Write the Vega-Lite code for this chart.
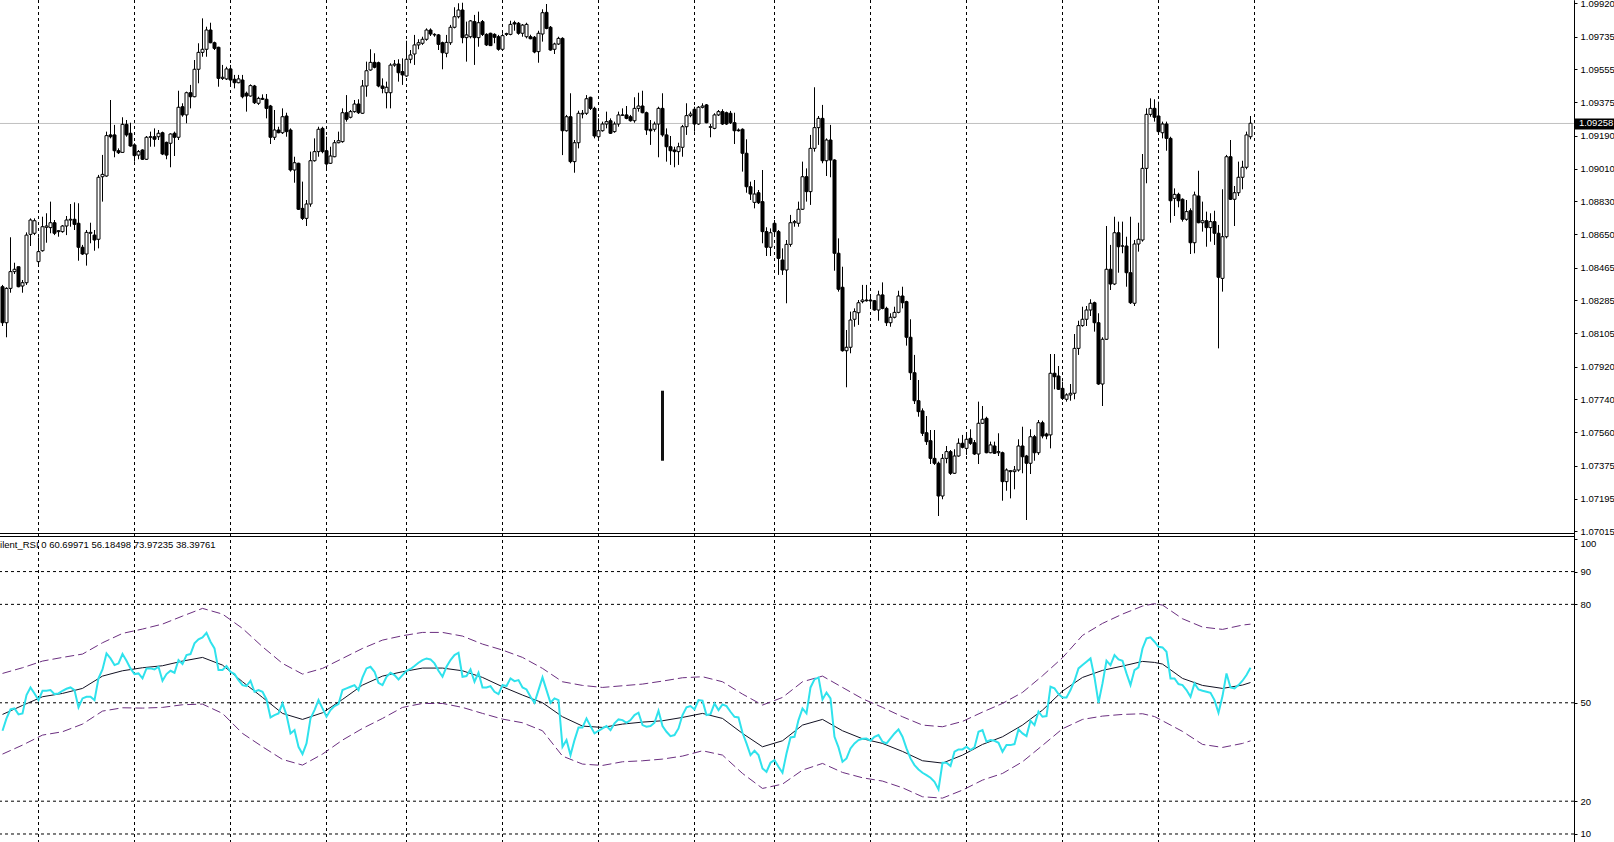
{
"$schema":"https://vega.github.io/schema/vega-lite/v6.json",
"width":1574,"height":842,
"autosize":{"type":"none"},
"padding":{"left":0,"top":0,"right":40,"bottom":0},
"background":"white",
"config":{"view":{"stroke":null},"scale":{"continuousPadding":0},"axis":{"labelFont":"Liberation Sans","labelFontSize":9.5,"labelColor":"#000","domainColor":"#000","tickColor":"#000","grid":false}},
"datasets":{
"grid":[{"i":9},{"i":33},{"i":57},{"i":81},{"i":101},{"i":125},{"i":149},{"i":173},{"i":193},{"i":217},{"i":241},{"i":265},{"i":289},{"i":313}],
"levels":[{"v":90},{"v":80},{"v":50},{"v":20},{"v":10}],
"bands":[
{"i":0,"up":58.95,"mid":46.45,"lo":34.36},{"i":5,"up":60.68,"mid":49.19,"lo":37.10},{"i":10,"up":62.71,"mid":51.84,"lo":40.15},{"i":15,"up":63.83,"mid":52.85,"lo":41.17},{"i":20,"up":64.85,"mid":54.38,"lo":43.50},{"i":25,"up":68.30,"mid":58.14,"lo":47.47},{"i":30,"up":71.15,"mid":59.76,"lo":48.48},{"i":35,"up":72.47,"mid":60.68,"lo":48.38},{"i":40,"up":73.99,"mid":61.29,"lo":48.59},{"i":45,"up":76.43,"mid":62.71,"lo":49.40},{"i":50,"up":78.77,"mid":63.83,"lo":49.60},{"i":55,"up":77.04,"mid":61.49,"lo":46.76},{"i":60,"up":72.67,"mid":56.41,"lo":40.66},{"i":65,"up":67.08,"mid":51.63,"lo":36.59},{"i":70,"up":62.0,"mid":46.76,"lo":32.73},{"i":75,"up":58.75,"mid":44.93,"lo":31.0},{"i":80,"up":60.48,"mid":46.96,"lo":34.36},{"i":85,"up":63.52,"mid":51.02,"lo":38.63},{"i":90,"up":66.57,"mid":55.39,"lo":42.18},{"i":95,"up":69.11,"mid":58.14,"lo":45.23},{"i":100,"up":70.44,"mid":59.46,"lo":48.59},{"i":105,"up":71.45,"mid":60.58,"lo":49.80},{"i":110,"up":71.45,"mid":60.58,"lo":49.80},{"i":115,"up":70.33,"mid":59.76,"lo":48.59},{"i":120,"up":67.89,"mid":57.73,"lo":46.76},{"i":125,"up":66.07,"mid":54.89,"lo":45.03},{"i":130,"up":63.83,"mid":52.35,"lo":43.91},{"i":135,"up":60.48,"mid":50.01,"lo":41.47},{"i":140,"up":56.41,"mid":45.74,"lo":33.75},{"i":145,"up":55.29,"mid":42.89,"lo":31.31},{"i":150,"up":54.68,"mid":42.49,"lo":30.90},{"i":155,"up":55.19,"mid":43.50,"lo":32.02},{"i":160,"up":55.70,"mid":44.11,"lo":32.32},{"i":165,"up":56.61,"mid":44.52,"lo":32.83},{"i":170,"up":57.63,"mid":45.54,"lo":33.75},{"i":175,"up":57.94,"mid":46.76,"lo":35.37},{"i":180,"up":56.41,"mid":45.23,"lo":34.05},{"i":185,"up":52.65,"mid":40.66,"lo":28.46},{"i":190,"up":49.30,"mid":36.59,"lo":23.89},{"i":195,"up":51.63,"mid":38.42,"lo":25.21},{"i":200,"up":56.41,"mid":43.20,"lo":29.48},{"i":205,"up":58.14,"mid":44.93,"lo":31.51},{"i":210,"up":54.68,"mid":41.47,"lo":28.77},{"i":215,"up":51.23,"mid":39.03,"lo":27.14},{"i":220,"up":48.59,"mid":37.61,"lo":26.13},{"i":225,"up":45.74,"mid":35.17,"lo":24.09},{"i":230,"up":43.20,"mid":32.33,"lo":21.35},{"i":235,"up":42.69,"mid":31.61,"lo":20.94},{"i":240,"up":44.32,"mid":34.05,"lo":23.38},{"i":245,"up":47.16,"mid":37.31,"lo":26.43},{"i":250,"up":49.81,"mid":39.64,"lo":28.46},{"i":255,"up":53.16,"mid":43.20,"lo":32.02},{"i":260,"up":58.24,"mid":47.77,"lo":37.0},{"i":265,"up":63.73,"mid":53.57,"lo":42.08},{"i":270,"up":70.54,"mid":57.73,"lo":44.93},{"i":275,"up":74.20,"mid":59.87,"lo":45.94},{"i":280,"up":77.04,"mid":61.19,"lo":46.45},{"i":285,"up":79.48,"mid":62.61,"lo":46.66},{"i":288,"up":80.2,"mid":62.3,"lo":45.8},{"i":290,"up":79.79,"mid":61.80,"lo":44.52},{"i":295,"up":75.62,"mid":57.43,"lo":41.27},{"i":300,"up":73.08,"mid":55.29,"lo":37.31},{"i":305,"up":72.37,"mid":54.38,"lo":36.39},{"i":310,"up":73.69,"mid":55.40,"lo":37.61},{"i":312,"up":73.97,"mid":56.18,"lo":38.40}
],
"candles":[
{"i":0,"o":1.08360,"h":1.08370,"l":1.08144,"c":1.08162,"r":41.47},
{"i":1,"o":1.08162,"h":1.08357,"l":1.08082,"c":1.08351,"r":45.23},
{"i":2,"o":1.08351,"h":1.08632,"l":1.08327,"c":1.08443,"r":47.98},
{"i":3,"o":1.08443,"h":1.08492,"l":1.08430,"c":1.08456,"r":48.28},
{"i":4,"o":1.08470,"h":1.08470,"l":1.08357,"c":1.08360,"r":46.45},
{"i":5,"o":1.08364,"h":1.08397,"l":1.08327,"c":1.08382,"r":46.76},
{"i":6,"o":1.08382,"h":1.08659,"l":1.08370,"c":1.08644,"r":52.35},
{"i":7,"o":1.08648,"h":1.08736,"l":1.08584,"c":1.08727,"r":54.68},
{"i":8,"o":1.08654,"h":1.08736,"l":1.08644,"c":1.08723,"r":52.85},
{"i":9,"o":1.08498,"h":1.08632,"l":1.08479,"c":1.08553,"r":50.82},
{"i":10,"o":1.08558,"h":1.08745,"l":1.08553,"c":1.08690,"r":53.67},
{"i":11,"o":1.08687,"h":1.08764,"l":1.08602,"c":1.08694,"r":53.67},
{"i":12,"o":1.08685,"h":1.08828,"l":1.08654,"c":1.08712,"r":53.87},
{"i":13,"o":1.08712,"h":1.08727,"l":1.08644,"c":1.08654,"r":52.65},
{"i":14,"o":1.08663,"h":1.08672,"l":1.08635,"c":1.08668,"r":52.85},
{"i":15,"o":1.08663,"h":1.08699,"l":1.08657,"c":1.08694,"r":53.67},
{"i":16,"o":1.08694,"h":1.08749,"l":1.08644,"c":1.08727,"r":54.28},
{"i":17,"o":1.08727,"h":1.08815,"l":1.08690,"c":1.08731,"r":54.68},
{"i":18,"o":1.08731,"h":1.08824,"l":1.08672,"c":1.08703,"r":53.87},
{"i":19,"o":1.08709,"h":1.08819,"l":1.08503,"c":1.08577,"r":48.59},
{"i":20,"o":1.08577,"h":1.08590,"l":1.08535,"c":1.08540,"r":51.33},
{"i":21,"o":1.08540,"h":1.08672,"l":1.08476,"c":1.08659,"r":51.84},
{"i":22,"o":1.08654,"h":1.08712,"l":1.08599,"c":1.08659,"r":51.84},
{"i":23,"o":1.08644,"h":1.08672,"l":1.08558,"c":1.08617,"r":50.82},
{"i":24,"o":1.08621,"h":1.08975,"l":1.08571,"c":1.08962,"r":57.43},
{"i":25,"o":1.08965,"h":1.09085,"l":1.08828,"c":1.08978,"r":60.17},
{"i":26,"o":1.08969,"h":1.09213,"l":1.08965,"c":1.09191,"r":65.05},
{"i":27,"o":1.09195,"h":1.09387,"l":1.09176,"c":1.09185,"r":63.52},
{"i":28,"o":1.09195,"h":1.09250,"l":1.09072,"c":1.09108,"r":61.49},
{"i":29,"o":1.09108,"h":1.09121,"l":1.09090,"c":1.09097,"r":62.0},
{"i":30,"o":1.09099,"h":1.09292,"l":1.09097,"c":1.09253,"r":64.85},
{"i":31,"o":1.09253,"h":1.09277,"l":1.09185,"c":1.09195,"r":62.81},
{"i":32,"o":1.09204,"h":1.09262,"l":1.09130,"c":1.09134,"r":60.48},
{"i":33,"o":1.09140,"h":1.09149,"l":1.09048,"c":1.09081,"r":58.75},
{"i":34,"o":1.09084,"h":1.09112,"l":1.09061,"c":1.09103,"r":58.95},
{"i":35,"o":1.09112,"h":1.09116,"l":1.09057,"c":1.09061,"r":57.43},
{"i":36,"o":1.09061,"h":1.09189,"l":1.09057,"c":1.09182,"r":60.48},
{"i":37,"o":1.09182,"h":1.09213,"l":1.09130,"c":1.09185,"r":60.48},
{"i":38,"o":1.09185,"h":1.09231,"l":1.09130,"c":1.09171,"r":60.17},
{"i":39,"o":1.09185,"h":1.09222,"l":1.09167,"c":1.09204,"r":60.98},
{"i":40,"o":1.09207,"h":1.09213,"l":1.09084,"c":1.09090,"r":56.72},
{"i":41,"o":1.09154,"h":1.09158,"l":1.09061,"c":1.09084,"r":58.75},
{"i":42,"o":1.09149,"h":1.09204,"l":1.09017,"c":1.09200,"r":59.76},
{"i":43,"o":1.09204,"h":1.09213,"l":1.09079,"c":1.09182,"r":59.15},
{"i":44,"o":1.09182,"h":1.09438,"l":1.09167,"c":1.09347,"r":63.02},
{"i":45,"o":1.09350,"h":1.09369,"l":1.09295,"c":1.09305,"r":61.80},
{"i":46,"o":1.09305,"h":1.09433,"l":1.09259,"c":1.09427,"r":64.54},
{"i":47,"o":1.09427,"h":1.09470,"l":1.09341,"c":1.09405,"r":64.85},
{"i":48,"o":1.09405,"h":1.09607,"l":1.09402,"c":1.09556,"r":68.10},
{"i":49,"o":1.09556,"h":1.09699,"l":1.09479,"c":1.09649,"r":69.32},
{"i":50,"o":1.09649,"h":1.09836,"l":1.09625,"c":1.09666,"r":69.93},
{"i":51,"o":1.09666,"h":1.09790,"l":1.09625,"c":1.09772,"r":71.35},
{"i":52,"o":1.09772,"h":1.09812,"l":1.09699,"c":1.09702,"r":68.61},
{"i":53,"o":1.09702,"h":1.09708,"l":1.09662,"c":1.09671,"r":66.57},
{"i":54,"o":1.09677,"h":1.09680,"l":1.09460,"c":1.09506,"r":59.97},
{"i":55,"o":1.09506,"h":1.09580,"l":1.09497,"c":1.09512,"r":59.97},
{"i":56,"o":1.09503,"h":1.09570,"l":1.09497,"c":1.09558,"r":61.19},
{"i":57,"o":1.09558,"h":1.09580,"l":1.09475,"c":1.09497,"r":59.46},
{"i":58,"o":1.09501,"h":1.09525,"l":1.09451,"c":1.09482,"r":58.75},
{"i":59,"o":1.09482,"h":1.09525,"l":1.09479,"c":1.09503,"r":56.92},
{"i":60,"o":1.09497,"h":1.09525,"l":1.09396,"c":1.09405,"r":55.39},
{"i":61,"o":1.09424,"h":1.09433,"l":1.09323,"c":1.09409,"r":55.09},
{"i":62,"o":1.09409,"h":1.09473,"l":1.09405,"c":1.09466,"r":56.72},
{"i":63,"o":1.09464,"h":1.09470,"l":1.09365,"c":1.09372,"r":53.36},
{"i":64,"o":1.09369,"h":1.09405,"l":1.09360,"c":1.09396,"r":53.87},
{"i":65,"o":1.09396,"h":1.09418,"l":1.09387,"c":1.09391,"r":53.36},
{"i":66,"o":1.09391,"h":1.09420,"l":1.09286,"c":1.09341,"r":51.02},
{"i":67,"o":1.09354,"h":1.09360,"l":1.09145,"c":1.09182,"r":45.54},
{"i":68,"o":1.09182,"h":1.09332,"l":1.09167,"c":1.09222,"r":46.25},
{"i":69,"o":1.09222,"h":1.09240,"l":1.09204,"c":1.09207,"r":46.76},
{"i":70,"o":1.09207,"h":1.09341,"l":1.09200,"c":1.09295,"r":49.80},
{"i":71,"o":1.09299,"h":1.09317,"l":1.09185,"c":1.09213,"r":46.25},
{"i":72,"o":1.09222,"h":1.09231,"l":1.08993,"c":1.09002,"r":40.66},
{"i":73,"o":1.09002,"h":1.09075,"l":1.08932,"c":1.09042,"r":41.67},
{"i":74,"o":1.09039,"h":1.09042,"l":1.08782,"c":1.08786,"r":36.59},
{"i":75,"o":1.08791,"h":1.08938,"l":1.08727,"c":1.08736,"r":34.36},
{"i":76,"o":1.08736,"h":1.08837,"l":1.08694,"c":1.08815,"r":37.61},
{"i":77,"o":1.08815,"h":1.09103,"l":1.08800,"c":1.09053,"r":45.23},
{"i":78,"o":1.09053,"h":1.09176,"l":1.09048,"c":1.09103,"r":47.77},
{"i":79,"o":1.09103,"h":1.09240,"l":1.09075,"c":1.09226,"r":50.82},
{"i":80,"o":1.09231,"h":1.09240,"l":1.09094,"c":1.09103,"r":48.28},
{"i":81,"o":1.09108,"h":1.09185,"l":1.09011,"c":1.09035,"r":45.74},
{"i":82,"o":1.09039,"h":1.09130,"l":1.09035,"c":1.09079,"r":47.77},
{"i":83,"o":1.09075,"h":1.09167,"l":1.09072,"c":1.09152,"r":48.99},
{"i":84,"o":1.09152,"h":1.09213,"l":1.09149,"c":1.09163,"r":49.60},
{"i":85,"o":1.09158,"h":1.09341,"l":1.09152,"c":1.09317,"r":53.87},
{"i":86,"o":1.09317,"h":1.09414,"l":1.09268,"c":1.09281,"r":54.38},
{"i":87,"o":1.09292,"h":1.09332,"l":1.09286,"c":1.09323,"r":54.89},
{"i":88,"o":1.09323,"h":1.09387,"l":1.09317,"c":1.09365,"r":55.39},
{"i":89,"o":1.09365,"h":1.09391,"l":1.09310,"c":1.09317,"r":53.87},
{"i":90,"o":1.09314,"h":1.09497,"l":1.09310,"c":1.09464,"r":57.73},
{"i":91,"o":1.09464,"h":1.09598,"l":1.09405,"c":1.09548,"r":60.48},
{"i":92,"o":1.09552,"h":1.09666,"l":1.09548,"c":1.09594,"r":60.98},
{"i":93,"o":1.09594,"h":1.09644,"l":1.09561,"c":1.09567,"r":59.46},
{"i":94,"o":1.09592,"h":1.09598,"l":1.09457,"c":1.09464,"r":56.11},
{"i":95,"o":1.09464,"h":1.09506,"l":1.09424,"c":1.09451,"r":55.39},
{"i":96,"o":1.09427,"h":1.09488,"l":1.09341,"c":1.09457,"r":57.94},
{"i":97,"o":1.09427,"h":1.09589,"l":1.09341,"c":1.09579,"r":59.15},
{"i":98,"o":1.09579,"h":1.09607,"l":1.09570,"c":1.09585,"r":58.44},
{"i":99,"o":1.09585,"h":1.09611,"l":1.09488,"c":1.09537,"r":57.12},
{"i":100,"o":1.09543,"h":1.09616,"l":1.09470,"c":1.09525,"r":58.44},
{"i":101,"o":1.09519,"h":1.09713,"l":1.09515,"c":1.09611,"r":59.76},
{"i":102,"o":1.09611,"h":1.09662,"l":1.09589,"c":1.09635,"r":60.3},
{"i":103,"o":1.09640,"h":1.09745,"l":1.09580,"c":1.09690,"r":61.2},
{"i":104,"o":1.09690,"h":1.09721,"l":1.09666,"c":1.09702,"r":62.2},
{"i":105,"o":1.09699,"h":1.09735,"l":1.09690,"c":1.09721,"r":63.02},
{"i":106,"o":1.09721,"h":1.09781,"l":1.09713,"c":1.09772,"r":63.52},
{"i":107,"o":1.09772,"h":1.09781,"l":1.09739,"c":1.09750,"r":63.22},
{"i":108,"o":1.09745,"h":1.09754,"l":1.09735,"c":1.09748,"r":62.0},
{"i":109,"o":1.09745,"h":1.09750,"l":1.09662,"c":1.09693,"r":59.76},
{"i":110,"o":1.09702,"h":1.09708,"l":1.09556,"c":1.09647,"r":57.94},
{"i":111,"o":1.09644,"h":1.09745,"l":1.09622,"c":1.09704,"r":60.98},
{"i":112,"o":1.09702,"h":1.09800,"l":1.09690,"c":1.09787,"r":63.02},
{"i":113,"o":1.09787,"h":1.09897,"l":1.09781,"c":1.09845,"r":64.54},
{"i":114,"o":1.09845,"h":1.09919,"l":1.09836,"c":1.09882,"r":65.25},
{"i":115,"o":1.09882,"h":1.09922,"l":1.09699,"c":1.09730,"r":57.94},
{"i":116,"o":1.09730,"h":1.09818,"l":1.09598,"c":1.09745,"r":58.14},
{"i":117,"o":1.09735,"h":1.09827,"l":1.09726,"c":1.09822,"r":60.17},
{"i":118,"o":1.09818,"h":1.09855,"l":1.09580,"c":1.09730,"r":56.41},
{"i":119,"o":1.09730,"h":1.09873,"l":1.09680,"c":1.09812,"r":59.15},
{"i":120,"o":1.09818,"h":1.09827,"l":1.09739,"c":1.09748,"r":54.68},
{"i":121,"o":1.09748,"h":1.09754,"l":1.09684,"c":1.09690,"r":54.68},
{"i":122,"o":1.09754,"h":1.09757,"l":1.09684,"c":1.09686,"r":55.09},
{"i":123,"o":1.09748,"h":1.09754,"l":1.09699,"c":1.09732,"r":53.36},
{"i":124,"o":1.09735,"h":1.09745,"l":1.09658,"c":1.09666,"r":52.65},
{"i":125,"o":1.09666,"h":1.09754,"l":1.09658,"c":1.09741,"r":55.39},
{"i":126,"o":1.09748,"h":1.09757,"l":1.09739,"c":1.09752,"r":55.09},
{"i":127,"o":1.09748,"h":1.09823,"l":1.09743,"c":1.09803,"r":57.43},
{"i":128,"o":1.09812,"h":1.09823,"l":1.09768,"c":1.09805,"r":56.61},
{"i":129,"o":1.09809,"h":1.09816,"l":1.09746,"c":1.09754,"r":56.92},
{"i":130,"o":1.09754,"h":1.09805,"l":1.09735,"c":1.09799,"r":54.68},
{"i":131,"o":1.09735,"h":1.09812,"l":1.09726,"c":1.09803,"r":54.07},
{"i":132,"o":1.09735,"h":1.09746,"l":1.09721,"c":1.09724,"r":51.84},
{"i":133,"o":1.09732,"h":1.09739,"l":1.09644,"c":1.09651,"r":50.01},
{"i":134,"o":1.09653,"h":1.09768,"l":1.09592,"c":1.09754,"r":53.87},
{"i":135,"o":1.09750,"h":1.09886,"l":1.09708,"c":1.09867,"r":57.73},
{"i":136,"o":1.09869,"h":1.09915,"l":1.09776,"c":1.09781,"r":53.87},
{"i":137,"o":1.09787,"h":1.09794,"l":1.09658,"c":1.09662,"r":50.01},
{"i":138,"o":1.09666,"h":1.09702,"l":1.09640,"c":1.09695,"r":51.33},
{"i":139,"o":1.09695,"h":1.09735,"l":1.09690,"c":1.09726,"r":50.82},
{"i":140,"o":1.09726,"h":1.09732,"l":1.09084,"c":1.09218,"r":36.59},
{"i":141,"o":1.09218,"h":1.09305,"l":1.09213,"c":1.09295,"r":38.63},
{"i":142,"o":1.09295,"h":1.09424,"l":1.09039,"c":1.09048,"r":34.05},
{"i":143,"o":1.09048,"h":1.09167,"l":1.08987,"c":1.09152,"r":38.63},
{"i":144,"o":1.09152,"h":1.09328,"l":1.09121,"c":1.09314,"r":42.49},
{"i":145,"o":1.09310,"h":1.09332,"l":1.09286,"c":1.09314,"r":42.49},
{"i":146,"o":1.09314,"h":1.09414,"l":1.09305,"c":1.09394,"r":45.23},
{"i":147,"o":1.09402,"h":1.09405,"l":1.09332,"c":1.09341,"r":42.89},
{"i":148,"o":1.09341,"h":1.09350,"l":1.09176,"c":1.09189,"r":40.66},
{"i":149,"o":1.09185,"h":1.09286,"l":1.09176,"c":1.09218,"r":41.47},
{"i":150,"o":1.09218,"h":1.09268,"l":1.09213,"c":1.09255,"r":42.18},
{"i":151,"o":1.09255,"h":1.09323,"l":1.09231,"c":1.09268,"r":42.89},
{"i":152,"o":1.09273,"h":1.09286,"l":1.09200,"c":1.09204,"r":41.67},
{"i":153,"o":1.09213,"h":1.09268,"l":1.09207,"c":1.09255,"r":43.71},
{"i":154,"o":1.09255,"h":1.09323,"l":1.09240,"c":1.09305,"r":44.93},
{"i":155,"o":1.09303,"h":1.09341,"l":1.09299,"c":1.09305,"r":44.72},
{"i":156,"o":1.09305,"h":1.09354,"l":1.09281,"c":1.09286,"r":43.91},
{"i":157,"o":1.09295,"h":1.09305,"l":1.09268,"c":1.09273,"r":44.72},
{"i":158,"o":1.09273,"h":1.09402,"l":1.09262,"c":1.09341,"r":46.25},
{"i":159,"o":1.09341,"h":1.09427,"l":1.09323,"c":1.09354,"r":46.96},
{"i":160,"o":1.09354,"h":1.09438,"l":1.09314,"c":1.09317,"r":43.20},
{"i":161,"o":1.09317,"h":1.09323,"l":1.09195,"c":1.09222,"r":42.69},
{"i":162,"o":1.09226,"h":1.09277,"l":1.09140,"c":1.09218,"r":42.89},
{"i":163,"o":1.09226,"h":1.09268,"l":1.09213,"c":1.09255,"r":43.91},
{"i":164,"o":1.09255,"h":1.09350,"l":1.09072,"c":1.09341,"r":47.57},
{"i":165,"o":1.09341,"h":1.09424,"l":1.09185,"c":1.09195,"r":42.89},
{"i":166,"o":1.09195,"h":1.09231,"l":1.09048,"c":1.09130,"r":41.17},
{"i":167,"o":1.09130,"h":1.09189,"l":1.09030,"c":1.09108,"r":39.84},
{"i":168,"o":1.09112,"h":1.09130,"l":1.09017,"c":1.09103,"r":40.15},
{"i":169,"o":1.09103,"h":1.09152,"l":1.09030,"c":1.09130,"r":42.18},
{"i":170,"o":1.09127,"h":1.09250,"l":1.09075,"c":1.09240,"r":46.25},
{"i":171,"o":1.09240,"h":1.09369,"l":1.09195,"c":1.09301,"r":48.59},
{"i":172,"o":1.09301,"h":1.09323,"l":1.09292,"c":1.09310,"r":48.99},
{"i":173,"o":1.09336,"h":1.09350,"l":1.09213,"c":1.09255,"r":47.98},
{"i":174,"o":1.09255,"h":1.09354,"l":1.09250,"c":1.09347,"r":50.82},
{"i":175,"o":1.09347,"h":1.09369,"l":1.09341,"c":1.09354,"r":50.62},
{"i":176,"o":1.09360,"h":1.09365,"l":1.09259,"c":1.09262,"r":46.25},
{"i":177,"o":1.09237,"h":1.09255,"l":1.09182,"c":1.09240,"r":46.55},
{"i":178,"o":1.09231,"h":1.09314,"l":1.09226,"c":1.09305,"r":49.80},
{"i":179,"o":1.09305,"h":1.09332,"l":1.09299,"c":1.09323,"r":47.77},
{"i":180,"o":1.09323,"h":1.09336,"l":1.09250,"c":1.09255,"r":49.50},
{"i":181,"o":1.09317,"h":1.09323,"l":1.09250,"c":1.09255,"r":48.99},
{"i":182,"o":1.09314,"h":1.09327,"l":1.09255,"c":1.09262,"r":47.26},
{"i":183,"o":1.09262,"h":1.09317,"l":1.09145,"c":1.09218,"r":45.74},
{"i":184,"o":1.09222,"h":1.09231,"l":1.09213,"c":1.09218,"r":45.54},
{"i":185,"o":1.09226,"h":1.09231,"l":1.08993,"c":1.09094,"r":40.86},
{"i":186,"o":1.09094,"h":1.09171,"l":1.08877,"c":1.08910,"r":37.61},
{"i":187,"o":1.08910,"h":1.08938,"l":1.08837,"c":1.08870,"r":34.05},
{"i":188,"o":1.08824,"h":1.08947,"l":1.08791,"c":1.08870,"r":35.37},
{"i":189,"o":1.08877,"h":1.08892,"l":1.08815,"c":1.08822,"r":34.05},
{"i":190,"o":1.08828,"h":1.09002,"l":1.08599,"c":1.08663,"r":29.99},
{"i":191,"o":1.08663,"h":1.08687,"l":1.08529,"c":1.08577,"r":28.97},
{"i":192,"o":1.08577,"h":1.08681,"l":1.08529,"c":1.08657,"r":31.71},
{"i":193,"o":1.08709,"h":1.08727,"l":1.08644,"c":1.08663,"r":32.53},
{"i":194,"o":1.08663,"h":1.08672,"l":1.08425,"c":1.08516,"r":30.49},
{"i":195,"o":1.08507,"h":1.08571,"l":1.08425,"c":1.08452,"r":28.67},
{"i":196,"o":1.08452,"h":1.08617,"l":1.08269,"c":1.08593,"r":34.56},
{"i":197,"o":1.08593,"h":1.08755,"l":1.08580,"c":1.08712,"r":39.44},
{"i":198,"o":1.08712,"h":1.08727,"l":1.08690,"c":1.08718,"r":39.64},
{"i":199,"o":1.08709,"h":1.08828,"l":1.08690,"c":1.08786,"r":44.72},
{"i":200,"o":1.08786,"h":1.09048,"l":1.08782,"c":1.08965,"r":48.28},
{"i":201,"o":1.08965,"h":1.09011,"l":1.08828,"c":1.08883,"r":46.76},
{"i":202,"o":1.08883,"h":1.09195,"l":1.08810,"c":1.09121,"r":54.68},
{"i":203,"o":1.09121,"h":1.09457,"l":1.09103,"c":1.09235,"r":57.12},
{"i":204,"o":1.09235,"h":1.09299,"l":1.09140,"c":1.09286,"r":57.73},
{"i":205,"o":1.09286,"h":1.09360,"l":1.09039,"c":1.09053,"r":51.0},
{"i":206,"o":1.09053,"h":1.09176,"l":1.08969,"c":1.09167,"r":53.1},
{"i":207,"o":1.09167,"h":1.09250,"l":1.08962,"c":1.09057,"r":51.33},
{"i":208,"o":1.09057,"h":1.09061,"l":1.08448,"c":1.08544,"r":39.64},
{"i":209,"o":1.08544,"h":1.08626,"l":1.08333,"c":1.08346,"r":36.39},
{"i":210,"o":1.08357,"h":1.08470,"l":1.08003,"c":1.08008,"r":32.02},
{"i":211,"o":1.08008,"h":1.08122,"l":1.07807,"c":1.08027,"r":33.04},
{"i":212,"o":1.08027,"h":1.08223,"l":1.07994,"c":1.08177,"r":36.09},
{"i":213,"o":1.08181,"h":1.08241,"l":1.08140,"c":1.08223,"r":37.61},
{"i":214,"o":1.08217,"h":1.08287,"l":1.08150,"c":1.08272,"r":38.63},
{"i":215,"o":1.08278,"h":1.08370,"l":1.08269,"c":1.08287,"r":39.03},
{"i":216,"o":1.08287,"h":1.08370,"l":1.08278,"c":1.08283,"r":39.13},
{"i":217,"o":1.08287,"h":1.08315,"l":1.08250,"c":1.08282,"r":38.42},
{"i":218,"o":1.08283,"h":1.08287,"l":1.08228,"c":1.08232,"r":39.64},
{"i":219,"o":1.08232,"h":1.08338,"l":1.08173,"c":1.08315,"r":40.15},
{"i":220,"o":1.08315,"h":1.08384,"l":1.08236,"c":1.08241,"r":38.12},
{"i":221,"o":1.08241,"h":1.08250,"l":1.08144,"c":1.08162,"r":37.61},
{"i":222,"o":1.08162,"h":1.08214,"l":1.08140,"c":1.08192,"r":39.13},
{"i":223,"o":1.08192,"h":1.08250,"l":1.08186,"c":1.08219,"r":40.66},
{"i":224,"o":1.08219,"h":1.08338,"l":1.08214,"c":1.08309,"r":41.88},
{"i":225,"o":1.08309,"h":1.08360,"l":1.08241,"c":1.08272,"r":39.64},
{"i":226,"o":1.08278,"h":1.08283,"l":1.08036,"c":1.08082,"r":36.09},
{"i":227,"o":1.08082,"h":1.08181,"l":1.07847,"c":1.07887,"r":33.04},
{"i":228,"o":1.07887,"h":1.07985,"l":1.07715,"c":1.07733,"r":31.0},
{"i":229,"o":1.07733,"h":1.07847,"l":1.07645,"c":1.07673,"r":29.68},
{"i":230,"o":1.07677,"h":1.07691,"l":1.07539,"c":1.07554,"r":28.67},
{"i":231,"o":1.07557,"h":1.07649,"l":1.07490,"c":1.07508,"r":27.96},
{"i":232,"o":1.07513,"h":1.07572,"l":1.07385,"c":1.07416,"r":27.14},
{"i":233,"o":1.07416,"h":1.07572,"l":1.07380,"c":1.07389,"r":25.92},
{"i":234,"o":1.07389,"h":1.07398,"l":1.07099,"c":1.07209,"r":23.59},
{"i":235,"o":1.07209,"h":1.07440,"l":1.07191,"c":1.07416,"r":31.72},
{"i":236,"o":1.07416,"h":1.07484,"l":1.07389,"c":1.07453,"r":31.72},
{"i":237,"o":1.07453,"h":1.07462,"l":1.07325,"c":1.07334,"r":30.70},
{"i":238,"o":1.07334,"h":1.07466,"l":1.07330,"c":1.07429,"r":35.07},
{"i":239,"o":1.07429,"h":1.07526,"l":1.07425,"c":1.07499,"r":35.78},
{"i":240,"o":1.07499,"h":1.07545,"l":1.07471,"c":1.07477,"r":35.78},
{"i":241,"o":1.07471,"h":1.07554,"l":1.07435,"c":1.07521,"r":36.59},
{"i":242,"o":1.07526,"h":1.07576,"l":1.07490,"c":1.07499,"r":35.58},
{"i":243,"o":1.07502,"h":1.07517,"l":1.07435,"c":1.07440,"r":36.39},
{"i":244,"o":1.07440,"h":1.07728,"l":1.07385,"c":1.07609,"r":41.17},
{"i":245,"o":1.07609,"h":1.07704,"l":1.07605,"c":1.07631,"r":41.68},
{"i":246,"o":1.07636,"h":1.07645,"l":1.07444,"c":1.07447,"r":38.12},
{"i":247,"o":1.07447,"h":1.07508,"l":1.07444,"c":1.07490,"r":38.63},
{"i":248,"o":1.07484,"h":1.07508,"l":1.07440,"c":1.07444,"r":38.42},
{"i":249,"o":1.07447,"h":1.07554,"l":1.07429,"c":1.07453,"r":37.81},
{"i":250,"o":1.07447,"h":1.07453,"l":1.07183,"c":1.07288,"r":35.07},
{"i":251,"o":1.07288,"h":1.07361,"l":1.07238,"c":1.07352,"r":37.10},
{"i":252,"o":1.07343,"h":1.07352,"l":1.07196,"c":1.07348,"r":37.10},
{"i":253,"o":1.07343,"h":1.07374,"l":1.07246,"c":1.07352,"r":37.41},
{"i":254,"o":1.07352,"h":1.07521,"l":1.07343,"c":1.07484,"r":41.88},
{"i":255,"o":1.07484,"h":1.07590,"l":1.07334,"c":1.07425,"r":40.66},
{"i":256,"o":1.07429,"h":1.07435,"l":1.07077,"c":1.07389,"r":39.85},
{"i":257,"o":1.07389,"h":1.07576,"l":1.07330,"c":1.07535,"r":44.52},
{"i":258,"o":1.07535,"h":1.07545,"l":1.07403,"c":1.07447,"r":43.20},
{"i":259,"o":1.07447,"h":1.07627,"l":1.07435,"c":1.07612,"r":47.27},
{"i":260,"o":1.07612,"h":1.07623,"l":1.07526,"c":1.07539,"r":45.74},
{"i":261,"o":1.07550,"h":1.07557,"l":1.07521,"c":1.07539,"r":45.94},
{"i":262,"o":1.07545,"h":1.07990,"l":1.07471,"c":1.07884,"r":54.89},
{"i":263,"o":1.07884,"h":1.07990,"l":1.07796,"c":1.07865,"r":54.38},
{"i":264,"o":1.07869,"h":1.07924,"l":1.07792,"c":1.07796,"r":52.65},
{"i":265,"o":1.07801,"h":1.07838,"l":1.07737,"c":1.07746,"r":51.64},
{"i":266,"o":1.07741,"h":1.07774,"l":1.07728,"c":1.07765,"r":51.64},
{"i":267,"o":1.07765,"h":1.07825,"l":1.07733,"c":1.07774,"r":53.87},
{"i":268,"o":1.07774,"h":1.08100,"l":1.07741,"c":1.08021,"r":56.72},
{"i":269,"o":1.08021,"h":1.08173,"l":1.07985,"c":1.08146,"r":60.48},
{"i":270,"o":1.08146,"h":1.08250,"l":1.08140,"c":1.08181,"r":61.49},
{"i":271,"o":1.08181,"h":1.08254,"l":1.08144,"c":1.08232,"r":62.51},
{"i":272,"o":1.08232,"h":1.08291,"l":1.08199,"c":1.08269,"r":63.53},
{"i":273,"o":1.08272,"h":1.08278,"l":1.08113,"c":1.08162,"r":57.73},
{"i":274,"o":1.08162,"h":1.08214,"l":1.07820,"c":1.07825,"r":50.01},
{"i":275,"o":1.07825,"h":1.08082,"l":1.07704,"c":1.08071,"r":55.90},
{"i":276,"o":1.08071,"h":1.08694,"l":1.08067,"c":1.08456,"r":62.81},
{"i":277,"o":1.08456,"h":1.08590,"l":1.08342,"c":1.08375,"r":61.49},
{"i":278,"o":1.08375,"h":1.08745,"l":1.08369,"c":1.08657,"r":64.54},
{"i":279,"o":1.08657,"h":1.08718,"l":1.08437,"c":1.08580,"r":63.22},
{"i":280,"o":1.08584,"h":1.08718,"l":1.08544,"c":1.08584,"r":62.81},
{"i":281,"o":1.08584,"h":1.08635,"l":1.08360,"c":1.08437,"r":58.95},
{"i":282,"o":1.08437,"h":1.08745,"l":1.08265,"c":1.08272,"r":55.40},
{"i":283,"o":1.08269,"h":1.08617,"l":1.08254,"c":1.08595,"r":59.97},
{"i":284,"o":1.08595,"h":1.08712,"l":1.08553,"c":1.08621,"r":60.78},
{"i":285,"o":1.08617,"h":1.09090,"l":1.08608,"c":1.09011,"r":66.57},
{"i":286,"o":1.09011,"h":1.09341,"l":1.08929,"c":1.09308,"r":69.62},
{"i":287,"o":1.09308,"h":1.09396,"l":1.09295,"c":1.09341,"r":69.93},
{"i":288,"o":1.09341,"h":1.09391,"l":1.09268,"c":1.09292,"r":68.61},
{"i":289,"o":1.09299,"h":1.09378,"l":1.09204,"c":1.09213,"r":67.08},
{"i":290,"o":1.09207,"h":1.09268,"l":1.09176,"c":1.09255,"r":66.88},
{"i":291,"o":1.09255,"h":1.09268,"l":1.09108,"c":1.09176,"r":65.56},
{"i":292,"o":1.09176,"h":1.09185,"l":1.08712,"c":1.08833,"r":57.43},
{"i":293,"o":1.08846,"h":1.08901,"l":1.08749,"c":1.08868,"r":57.43},
{"i":294,"o":1.08868,"h":1.08877,"l":1.08797,"c":1.08833,"r":55.70},
{"i":295,"o":1.08841,"h":1.08846,"l":1.08718,"c":1.08731,"r":55.40},
{"i":296,"o":1.08731,"h":1.08837,"l":1.08723,"c":1.08773,"r":53.87},
{"i":297,"o":1.08778,"h":1.08791,"l":1.08540,"c":1.08602,"r":51.84},
{"i":298,"o":1.08602,"h":1.08883,"l":1.08544,"c":1.08865,"r":55.90},
{"i":299,"o":1.08859,"h":1.08998,"l":1.08709,"c":1.08712,"r":54.07},
{"i":300,"o":1.08712,"h":1.08828,"l":1.08663,"c":1.08723,"r":53.67},
{"i":301,"o":1.08723,"h":1.08773,"l":1.08580,"c":1.08685,"r":53.36},
{"i":302,"o":1.08685,"h":1.08764,"l":1.08608,"c":1.08718,"r":53.06},
{"i":303,"o":1.08718,"h":1.08778,"l":1.08590,"c":1.08654,"r":50.82},
{"i":304,"o":1.08654,"h":1.08700,"l":1.08021,"c":1.08412,"r":46.96},
{"i":305,"o":1.08406,"h":1.08896,"l":1.08333,"c":1.08635,"r":52.04},
{"i":306,"o":1.08635,"h":1.09085,"l":1.08626,"c":1.09075,"r":58.95},
{"i":307,"o":1.09075,"h":1.09167,"l":1.08837,"c":1.08841,"r":54.68},
{"i":308,"o":1.08841,"h":1.08914,"l":1.08694,"c":1.08877,"r":54.38},
{"i":309,"o":1.08877,"h":1.09048,"l":1.08859,"c":1.08962,"r":55.40},
{"i":310,"o":1.08962,"h":1.09053,"l":1.08896,"c":1.09017,"r":56.72},
{"i":311,"o":1.09017,"h":1.09213,"l":1.09006,"c":1.09195,"r":58.44},
{"i":312,"o":1.09185,"h":1.09299,"l":1.09171,"c":1.09259,"r":60.70}
]
},
"resolve":{"scale":{"y":"independent"},"axis":{"y":"independent"}},
"layer":[
{"data":{"name":"grid"},"mark":{"type":"rule","color":"#000","strokeWidth":1,"strokeDash":[3,3]},
 "encoding":{"x":{"field":"i","type":"quantitative","scale":{"domain":[-0.625,392.875],"nice":false,"zero":false,"padding":0},"axis":null}}},
{"data":{"values":[{"p":1.09258}]},"mark":{"type":"rule","color":"#c0c0c0","strokeWidth":1},
 "encoding":{"y":{"field":"p","type":"quantitative","scale":{"domain":[1.05306,1.09937],"nice":false,"zero":false},
  "axis":{"orient":"right","title":null,"grid":false,"format":".5f","values":[1.0992,1.09735,1.09555,1.09375,1.0919,1.0901,1.0883,1.0865,1.08465,1.08285,1.08105,1.0792,1.0774,1.0756,1.07375,1.07195,1.07015],"tickSize":3,"labelPadding":3,"labelOverlap":false,"labelBound":false,"labelFontSize":9.5,"domain":true,"domainWidth":1}}}},
{"data":{"values":[{"p":1.0700275}]},"mark":{"type":"rule","color":"#000","strokeWidth":1},
 "encoding":{"y":{"field":"p","type":"quantitative","scale":{"domain":[1.05306,1.09937],"nice":false,"zero":false},"axis":null}}},
{"data":{"name":"candles"},"mark":{"type":"rule","color":"#000","strokeWidth":1},
 "encoding":{"x":{"field":"i","type":"quantitative","scale":{"domain":[-0.625,392.875],"nice":false,"zero":false,"padding":0},"axis":null},
  "y":{"field":"l","type":"quantitative","scale":{"domain":[1.05306,1.09937],"nice":false,"zero":false},"axis":null},"y2":{"field":"h"}}},
{"data":{"name":"candles"},"mark":{"type":"bar","size":3,"stroke":"#000","strokeWidth":1},
 "encoding":{"x":{"field":"i","type":"quantitative","scale":{"domain":[-0.625,392.875],"nice":false,"zero":false,"padding":0},"axis":null},
  "y":{"field":"o","type":"quantitative","scale":{"domain":[1.05306,1.09937],"nice":false,"zero":false},"axis":null},"y2":{"field":"c"},
  "fill":{"condition":{"test":"datum.c < datum.o","value":"#000"},"value":"#fff"}}},
{"data":{"values":[{"i":165,"top":1.07788,"bot":1.07403}]},"mark":{"type":"bar","size":3,"color":"#111"},
 "encoding":{"x":{"field":"i","type":"quantitative","scale":{"domain":[-0.625,392.875],"nice":false,"zero":false,"padding":0},"axis":null},
  "y":{"field":"top","type":"quantitative","scale":{"domain":[1.05306,1.09937],"nice":false,"zero":false},"axis":null},"y2":{"field":"bot"}}},
{"data":{"values":[{"x1":393.125,"x2":402.875,"y1":1.09285,"y2":1.09225}]},"mark":{"type":"rect","color":"#000","clip":false},
 "encoding":{"x":{"field":"x1","type":"quantitative","scale":{"domain":[-0.625,392.875],"nice":false,"zero":false,"padding":0},"axis":null},"x2":{"field":"x2"},
  "y":{"field":"y1","type":"quantitative","scale":{"domain":[1.05306,1.09937],"nice":false,"zero":false},"axis":null},"y2":{"field":"y2"}}},
{"data":{"values":[{"x":394.1,"p":1.09258,"t":"1.09258"}]},"mark":{"type":"text","align":"left","baseline":"middle","color":"#fff","font":"Liberation Sans","fontSize":9.5,"clip":false},
 "encoding":{"x":{"field":"x","type":"quantitative","scale":{"domain":[-0.625,392.875],"nice":false,"zero":false,"padding":0},"axis":null},
  "y":{"field":"p","type":"quantitative","scale":{"domain":[1.05306,1.09937],"nice":false,"zero":false},"axis":null},"text":{"field":"t"}}},
{"data":{"name":"levels"},"mark":{"type":"rule","color":"#000","strokeWidth":1,"strokeDash":[3,3]},
 "encoding":{"y":{"field":"v","type":"quantitative","scale":{"domain":[7.56,264.24],"nice":false,"zero":false},
  "axis":{"orient":"right","title":null,"grid":false,"values":[100,90,80,50,20,10],"tickSize":3,"labelPadding":3,"labelOverlap":false,"labelBound":false,"labelFontSize":9.5,"domain":true,"domainWidth":1,
   "labelBaseline":{"condition":{"test":"datum.value == 100","value":"top"},"value":"middle"}}}}},
{"data":{"values":[{"v":100.69}]},"mark":{"type":"rule","color":"#000","strokeWidth":1},
 "encoding":{"y":{"field":"v","type":"quantitative","scale":{"domain":[7.56,264.24],"nice":false,"zero":false},"axis":null}}},
{"data":{"name":"bands"},"mark":{"type":"line","color":"#6b2f80","strokeWidth":1,"strokeDash":[9,4]},
 "encoding":{"x":{"field":"i","type":"quantitative","scale":{"domain":[-0.625,392.875],"nice":false,"zero":false,"padding":0},"axis":null},
  "y":{"field":"up","type":"quantitative","scale":{"domain":[7.56,264.24],"nice":false,"zero":false},"axis":null}}},
{"data":{"name":"bands"},"mark":{"type":"line","color":"#6b2f80","strokeWidth":1,"strokeDash":[9,4]},
 "encoding":{"x":{"field":"i","type":"quantitative","scale":{"domain":[-0.625,392.875],"nice":false,"zero":false,"padding":0},"axis":null},
  "y":{"field":"lo","type":"quantitative","scale":{"domain":[7.56,264.24],"nice":false,"zero":false},"axis":null}}},
{"data":{"name":"bands"},"mark":{"type":"line","color":"#111122","strokeWidth":1},
 "encoding":{"x":{"field":"i","type":"quantitative","scale":{"domain":[-0.625,392.875],"nice":false,"zero":false,"padding":0},"axis":null},
  "y":{"field":"mid","type":"quantitative","scale":{"domain":[7.56,264.24],"nice":false,"zero":false},"axis":null}}},
{"data":{"name":"candles"},"mark":{"type":"line","color":"#2fe2ec","strokeWidth":2},
 "encoding":{"x":{"field":"i","type":"quantitative","scale":{"domain":[-0.625,392.875],"nice":false,"zero":false,"padding":0},"axis":null},
  "y":{"field":"r","type":"quantitative","scale":{"domain":[7.56,264.24],"nice":false,"zero":false},"axis":null}}},
{"data":{"values":[{"i":-2.2,"v":98.1,"t":"Silent_RSI 0 60.69971 56.18498 73.97235 38.39761"}]},"mark":{"type":"text","align":"left","baseline":"middle","color":"#000","font":"Liberation Sans","fontSize":9.5},
 "encoding":{"x":{"field":"i","type":"quantitative","scale":{"domain":[-0.625,392.875],"nice":false,"zero":false,"padding":0},"axis":null},
  "y":{"field":"v","type":"quantitative","scale":{"domain":[7.56,264.24],"nice":false,"zero":false},"axis":null},"text":{"field":"t"}}}
]
}
